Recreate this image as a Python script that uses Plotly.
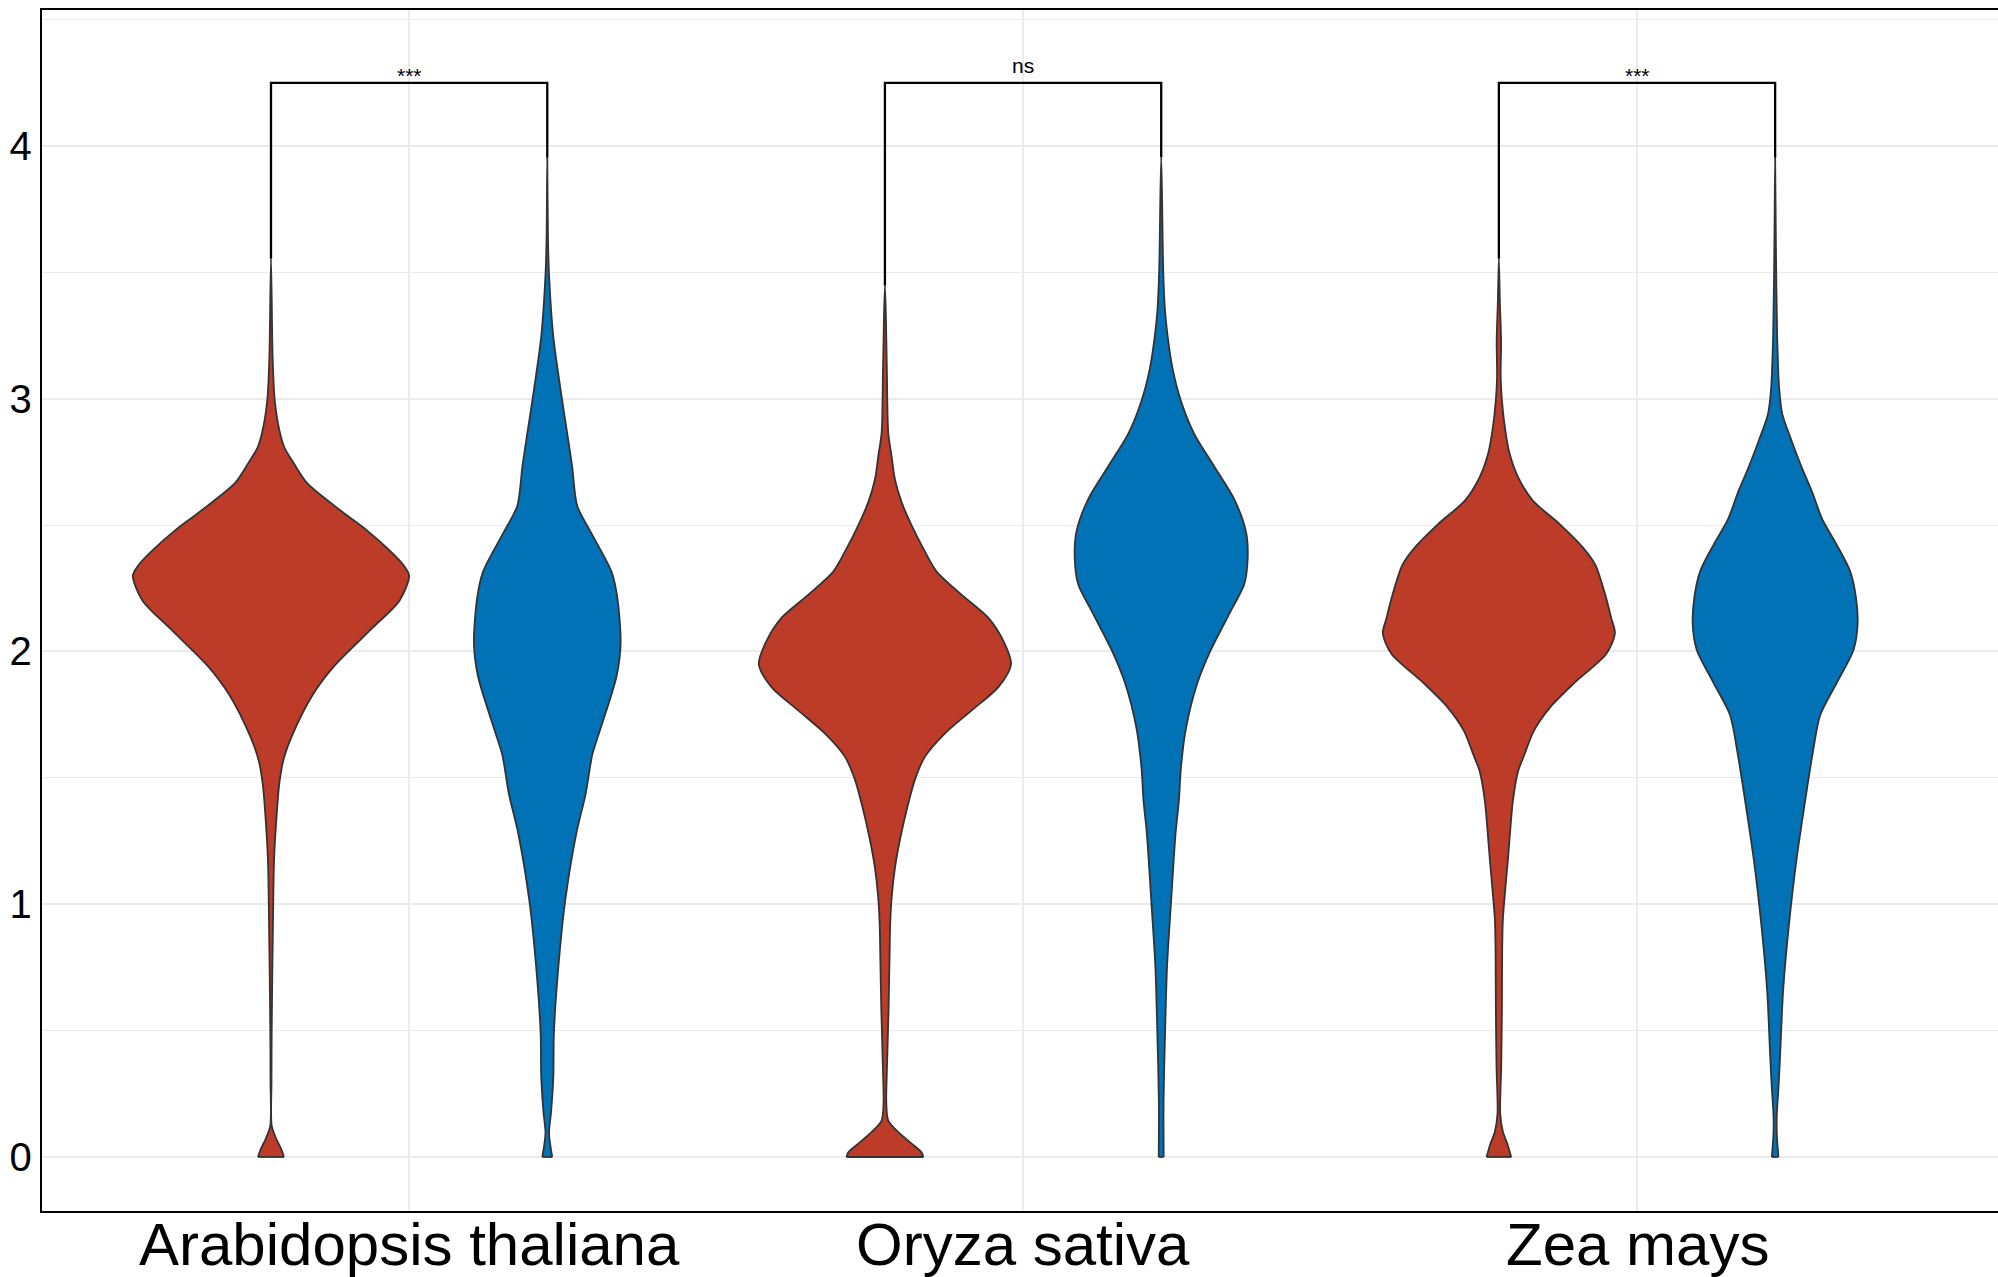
import plotly.graph_objects as go

SPECIES = ["Arabidopsis thaliana", "Oryza sativa", "Zea mays"]
GROUPS = ["Group 1", "Group 2"]
GROUP_COLORS = ["#BC3C29", "#0072B5"]
SIGNIF = ["***", "ns", "***"]
BRACKET_Y = 4.25
Y_TICKS = [0, 1, 2, 3, 4]

# Kernel density profiles: value levels (ascending) and relative density at each level
ARA_G1_Y = [0, 0.03, 0.077, 0.124, 0.30, 0.497, 0.94, 1.174, 1.314, 1.477, 1.571, 1.664, 1.827,
            1.944, 2.096, 2.201, 2.299, 2.341, 2.399, 2.481, 2.551, 2.667, 2.749, 2.807, 2.877,
            2.994, 3.158, 3.554]
ARA_G1_D = [0.094, 0.075, 0.034, 0.005, 0.0036, 0.005, 0.0145, 0.022, 0.036, 0.06, 0.09, 0.15, 0.30,
            0.46, 0.74, 0.93, 1.0, 0.96, 0.86, 0.69, 0.52, 0.26, 0.16, 0.097, 0.06,
            0.027, 0.012, 0]

ARA_G2_Y = [0, 0.093, 0.18, 0.32, 0.49, 0.75, 1.015, 1.28, 1.437, 1.592, 1.696, 1.903, 2.033,
            2.214, 2.317, 2.473, 2.576, 2.732, 2.861, 3.0, 3.25, 3.501, 3.638, 3.954]
ARA_G2_D = [0.036, 0.013, 0.028, 0.044, 0.048, 0.08, 0.13, 0.21, 0.278, 0.326, 0.386, 0.502, 0.531,
            0.507, 0.464, 0.314, 0.217, 0.18, 0.145, 0.106, 0.043, 0.012, 0.005, 0]

ORY_G1_Y = [0, 0.018, 0.053, 0.098, 0.144, 0.213, 0.35, 0.578, 0.807, 0.921, 1.036, 1.15, 1.264,
            1.379, 1.493, 1.584, 1.676, 1.767, 1.859, 1.95, 2.042, 2.133, 2.224, 2.316, 2.407,
            2.499, 2.59, 2.682, 2.773, 2.865, 3.093, 3.322, 3.448]
ORY_G1_D = [0.278, 0.266, 0.193, 0.097, 0.024, 0.01, 0.0145, 0.026, 0.034, 0.038, 0.05, 0.074, 0.112,
            0.16, 0.217, 0.29, 0.435, 0.628, 0.821, 0.913, 0.857, 0.749, 0.556, 0.374, 0.278,
            0.193, 0.121, 0.072, 0.048, 0.024, 0.0145, 0.007, 0]

ORY_G2_Y = [0, 0.22, 0.49, 0.75, 1.015, 1.28, 1.41, 1.541, 1.696, 1.877, 2.007, 2.162, 2.266,
            2.369, 2.473, 2.602, 2.732, 2.861, 2.991, 3.12, 3.25, 3.353, 3.509, 3.768, 3.954]
ORY_G2_D = [0.018, 0.017, 0.028, 0.042, 0.072, 0.104, 0.128, 0.143, 0.179, 0.263, 0.36, 0.505, 0.601,
            0.626, 0.614, 0.529, 0.384, 0.239, 0.143, 0.082, 0.046, 0.027, 0.0145, 0.007, 0]

ZEA_G1_Y = [0, 0.054, 0.1, 0.17, 0.357, 0.59, 0.824, 0.94, 1.057, 1.174, 1.291, 1.407, 1.524,
            1.594, 1.687, 1.781, 1.874, 1.991, 2.072, 2.131, 2.224, 2.341, 2.411, 2.504, 2.597,
            2.691, 2.784, 2.877, 2.994, 3.088, 3.228, 3.391, 3.554]
ZEA_G1_D = [0.089, 0.06, 0.029, 0.01, 0.017, 0.022, 0.024, 0.029, 0.046, 0.065, 0.082, 0.101, 0.138,
            0.186, 0.254, 0.374, 0.543, 0.778, 0.84, 0.814, 0.77, 0.7, 0.609, 0.44, 0.246,
            0.138, 0.077, 0.046, 0.022, 0.013, 0.016, 0.007, 0]

ZEA_G2_Y = [0, 0.091, 0.168, 0.272, 0.401, 0.66, 0.919, 1.178, 1.437, 1.618, 1.748, 1.877, 2.007,
            2.11, 2.214, 2.317, 2.421, 2.525, 2.628, 2.732, 2.835, 2.939, 3.042, 3.25, 3.638, 3.954]
ZEA_G2_D = [0.024, 0.012, 0.012, 0.024, 0.036, 0.058, 0.1, 0.155, 0.225, 0.278, 0.326, 0.447, 0.568,
            0.597, 0.585, 0.543, 0.447, 0.34, 0.27, 0.19, 0.118, 0.052, 0.029, 0.0145, 0.005, 0]

PROFILES = [
    [(ARA_G1_Y, ARA_G1_D), (ARA_G2_Y, ARA_G2_D)],
    [(ORY_G1_Y, ORY_G1_D), (ORY_G2_Y, ORY_G2_D)],
    [(ZEA_G1_Y, ZEA_G1_D), (ZEA_G2_Y, ZEA_G2_D)],
]

# dodged violins: total dodge width 0.9, each violin at most 0.45 wide
DODGE = 0.9
OFFSETS = [-DODGE / 4, DODGE / 4]
MAX_HALF = DODGE / 4
dmax = max(max(d) for pair in PROFILES for (_, d) in pair)

FONT = "Liberation Sans, Arial, Helvetica, sans-serif"
OUTLINE = "#333333"

fig = go.Figure()

for i, pair in enumerate(PROFILES):
    for g, (ys, ds) in enumerate(pair):
        xc = i + 1 + OFFSETS[g]
        half = [MAX_HALF * d / dmax for d in ds]
        xs = [xc - h for h in half] + [xc + h for h in reversed(half[:-1])]
        yv = list(ys) + list(reversed(ys[:-1]))
        fig.add_trace(go.Scatter(
            x=xs, y=yv, mode="lines", fill="toself",
            fillcolor=GROUP_COLORS[g],
            line=dict(color=OUTLINE, width=1.8, shape="spline", smoothing=0.8),
            name=GROUPS[g], showlegend=False, hoverinfo="skip",
        ))
        # flat base of the trimmed violin
        fig.add_trace(go.Scatter(
            x=[xc - half[0], xc + half[0]], y=[ys[0], ys[0]], mode="lines",
            line=dict(color=OUTLINE, width=1.8), showlegend=False, hoverinfo="skip",
        ))

# significance brackets
for i, pair in enumerate(PROFILES):
    x1 = i + 1 + OFFSETS[0]
    x2 = i + 1 + OFFSETS[1]
    top1 = max(pair[0][0])
    top2 = max(pair[1][0])
    fig.add_trace(go.Scatter(
        x=[x1, x1, x2, x2], y=[top1, BRACKET_Y, BRACKET_Y, top2], mode="lines",
        line=dict(color="black", width=2.3), showlegend=False, hoverinfo="skip",
    ))
    fig.add_annotation(
        x=i + 1, y=BRACKET_Y, xref="x", yref="y", text=SIGNIF[i], showarrow=False,
        yanchor="bottom", yshift=(-6 if SIGNIF[i] == "***" else 4),
        font=dict(family=FONT, size=21, color="black"),
    )

# category labels under the x axis
for i, name in enumerate(SPECIES):
    fig.add_annotation(
        x=i + 1, y=0, xref="x", yref="paper", text=name, showarrow=False,
        xanchor="center", yanchor="top", yshift=2,
        font=dict(family=FONT, size=60, color="black"),
    )

fig.update_layout(
    width=1998, height=1277,
    margin=dict(l=42, r=0, t=10, b=66),
    paper_bgcolor="white", plot_bgcolor="white",
    showlegend=False,
    font=dict(family=FONT, color="black"),
)

fig.update_xaxes(
    range=[0.402, 3.588],
    tickmode="array", tickvals=[1, 2, 3], showticklabels=False,
    showgrid=True, gridcolor="#EBEBEB", gridwidth=2,
    showline=True, linecolor="black", linewidth=2.3, mirror=True,
    ticks="", zeroline=False, automargin=False,
)
fig.update_yaxes(
    range=[-0.2137, 4.538],
    tickmode="array", tickvals=Y_TICKS, ticktext=[str(v) for v in Y_TICKS],
    tickfont=dict(family=FONT, size=40, color="black"),
    showgrid=True, gridcolor="#EBEBEB", gridwidth=2,
    minor=dict(tickmode="linear", tick0=0.5, dtick=1, showgrid=True, gridcolor="#EBEBEB", gridwidth=1),
    showline=True, linecolor="black", linewidth=2.3, mirror=False,
    ticks="", zeroline=False, automargin=False,
)

fig.write_html("out.html")
